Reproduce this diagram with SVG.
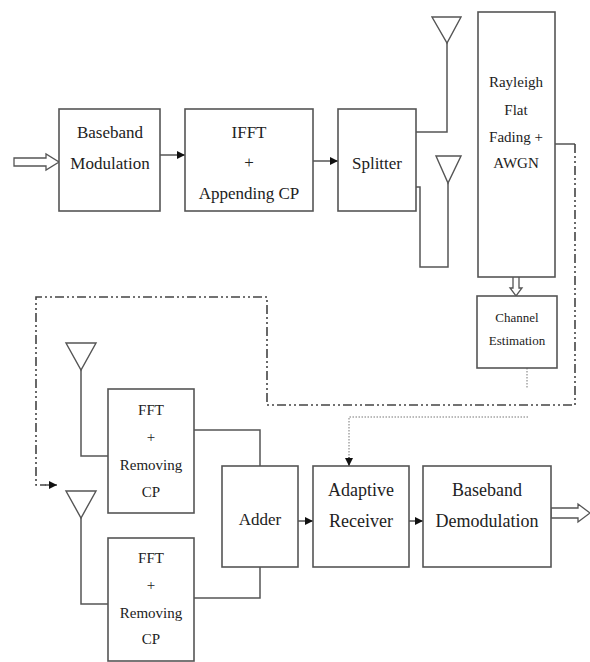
<svg xmlns="http://www.w3.org/2000/svg" width="590" height="662" viewBox="0 0 590 662">
<defs>
<marker id="ah" viewBox="0 0 10 10" refX="10" refY="5" markerWidth="8" markerHeight="8" markerUnits="userSpaceOnUse" orient="auto">
<path d="M0,0 L10,5 L0,10 z" fill="#111"/>
</marker>
</defs>
<style>
.box{fill:#fff;stroke:#555;stroke-width:1.6}
.ln{fill:none;stroke:#555;stroke-width:1.5}
.hol{fill:#fff;stroke:#555;stroke-width:1.3}
.dd{fill:none;stroke:#444;stroke-width:1.6;stroke-dasharray:9 3 2 3 2 3}
.dot{fill:none;stroke:#777;stroke-width:1;stroke-dasharray:1.5 1.5}
.ant{fill:#fff;stroke:#555;stroke-width:1.4}
.lbl{fill:#222;text-anchor:middle;font-family:"Liberation Serif","Times New Roman",serif}
.t17{font-size:17px}
.t18{font-size:18px}
.t15{font-size:15px}
.t13{font-size:13px}
</style>
<rect width="590" height="662" fill="#fff"/>

<g id="connectors">
<path class="hol" d="M14,158 H46 V154 L59,162 L46,170 V166 H14 Z"/>
<line class="ln" x1="160" y1="155" x2="185" y2="155" marker-end="url(#ah)"/>
<line class="ln" x1="313" y1="161" x2="338" y2="161" marker-end="url(#ah)"/>
<polyline class="ln" points="416,132 447,132 447,43"/>
<polyline class="ln" points="416,187 420,187 420,267 448,267 448,183"/>
<polyline class="ln" points="555,144 575,144"/>
<polyline class="dd" points="575,144 575,405 267,405 267,297 36,297 36,485 46,485"/>
<line class="ln" x1="45" y1="485" x2="57" y2="485" marker-end="url(#ah)"/>
<path class="hol" d="M513,277 V288 H510 L516,296 L522,288 H519 V277"/>
<line class="dot" x1="527" y1="368" x2="527" y2="388"/>
<polyline class="dot" points="528,417 349,417 349,458"/>
<line class="ln" x1="349" y1="457" x2="349" y2="466" stroke-width="1" marker-end="url(#ah)"/>
<polyline class="ln" points="81,370 81,456 108,456"/>
<polyline class="ln" points="81,518 81,604 108,604"/>
<polyline class="ln" points="194,430 260,430 260,466"/>
<polyline class="ln" points="194,598 260,598 260,567"/>
<line class="ln" x1="298" y1="521" x2="313" y2="521" marker-end="url(#ah)"/>
<line class="ln" x1="409" y1="521" x2="423" y2="521" marker-end="url(#ah)"/>
<path class="hol" d="M551,508 H578 V504 L590,513 L578,522 V518 H551 Z"/>
</g>

<g id="ant_tx1"><path class="ant" d="M432,17 L461,17 L447,43 Z"/></g>
<g id="ant_tx2"><path class="ant" d="M436,156 L461,156 L448,183 Z"/></g>
<g id="ant_rx1"><path class="ant" d="M66,343 L96,343 L81,370 Z"/></g>
<g id="ant_rx2"><path class="ant" d="M66,491 L96,491 L81,518 Z"/></g>

<g id="bbmod">
<rect class="box" x="59" y="109" width="101" height="102"/>
<text class="lbl t17" x="110" y="138">Baseband</text>
<text class="lbl t17" x="110" y="169">Modulation</text>
</g>
<g id="ifft">
<rect class="box" x="185" y="109" width="128" height="102"/>
<text class="lbl t17" x="249" y="138">IFFT</text>
<text class="lbl t17" x="249" y="168">+</text>
<text class="lbl t17" x="249" y="199">Appending CP</text>
</g>
<g id="splitter">
<rect class="box" x="338" y="109" width="78" height="102"/>
<text class="lbl t17" x="377" y="169">Splitter</text>
</g>
<g id="rayleigh">
<rect class="box" x="478" y="12" width="77" height="265"/>
<text class="lbl t15" x="516" y="87">Rayleigh</text>
<text class="lbl t15" x="516" y="115">Flat</text>
<text class="lbl t15" x="516" y="142">Fading +</text>
<text class="lbl t15" x="516" y="168">AWGN</text>
</g>
<g id="chest">
<rect class="box" x="477" y="296" width="80" height="72"/>
<text class="lbl t13" x="517" y="322">Channel</text>
<text class="lbl t13" x="517" y="345">Estimation</text>
</g>
<g id="fft1">
<rect class="box" x="108" y="389" width="86" height="124"/>
<text class="lbl t15" x="151" y="415">FFT</text>
<text class="lbl t15" x="151" y="442">+</text>
<text class="lbl t15" x="151" y="470">Removing</text>
<text class="lbl t15" x="151" y="497">CP</text>
</g>
<g id="fft2">
<rect class="box" x="108" y="538" width="86" height="123"/>
<text class="lbl t15" x="151" y="563">FFT</text>
<text class="lbl t15" x="151" y="590">+</text>
<text class="lbl t15" x="151" y="618">Removing</text>
<text class="lbl t15" x="151" y="644">CP</text>
</g>
<g id="adder">
<rect class="box" x="222" y="466" width="76" height="101"/>
<text class="lbl t17" x="260" y="525">Adder</text>
</g>
<g id="adaptive">
<rect class="box" x="313" y="466" width="96" height="101"/>
<text class="lbl t18" x="361" y="496">Adaptive</text>
<text class="lbl t18" x="361" y="527">Receiver</text>
</g>
<g id="bbdemod">
<rect class="box" x="423" y="466" width="128" height="101"/>
<text class="lbl t18" x="487" y="496">Baseband</text>
<text class="lbl t18" x="487" y="527">Demodulation</text>
</g>
</svg>
